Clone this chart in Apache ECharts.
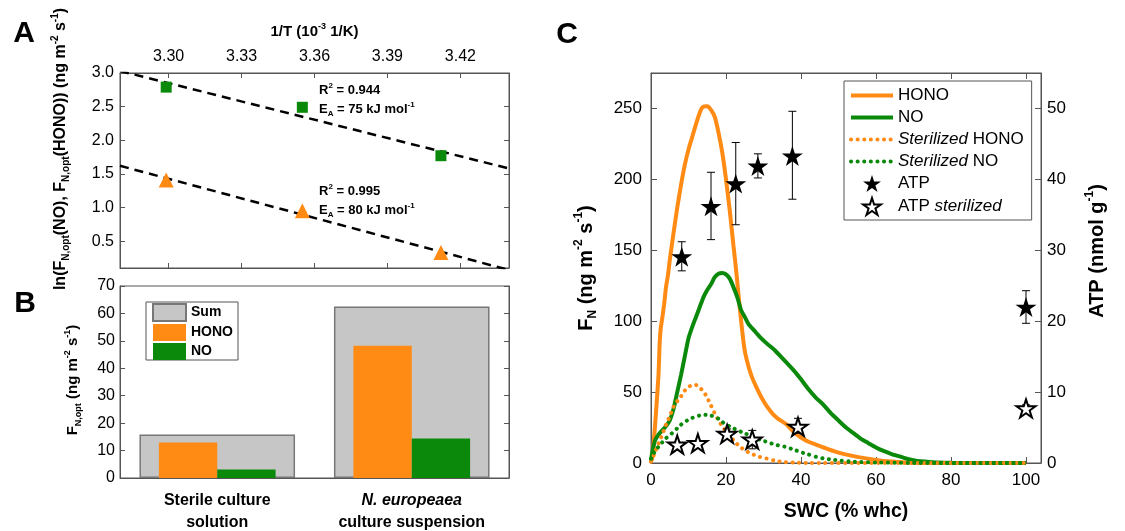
<!DOCTYPE html>
<html><head><meta charset="utf-8">
<script src="https://cdn.jsdelivr.net/npm/echarts@6/dist/echarts.min.js"></script>
<style>html,body{margin:0;padding:0;background:#fff}#c{width:1125px;height:531px}</style>
</head><body><div id="c"></div>
<script>
// ---------- Panel A: Arrhenius plot ----------
const invT = [3.299, 3.355, 3.412];
const lnNO = [2.79, 2.49, 1.77];
const lnHONO = [1.41, 0.95, 0.33];
const fitX = [3.28, 3.44];
const fitNO = [3.03, 1.58];
const fitHONO = [1.62, 0.07];
const aXTicks = [3.30, 3.33, 3.36, 3.39, 3.42];
const aYTicks = [0.5, 1.0, 1.5, 2.0, 2.5, 3.0];
// ---------- Panel B: optimum fluxes ----------
const bCategories = ['Sterile culture\nsolution', 'N. europeaea\nculture suspension'];
const bSum = [15.9, 62.5];
const bHONO = [12.9, 48.2];
const bNO = [3.1, 14.4];
// ---------- Panel C: fluxes vs SWC ----------
const cHONO = [[0,1],[0.3,3],[0.7,14],[1.1,27],[1.5,42],[2,62],[2.3,84],[2.6,95],[3,102],[3.5,112],[4,124],[4.5,132],[5,143],[6,162],[7,180],[8,196],[9,210],[10,221],[11,230],[12,239],[13,247],[13.8,251],[15,251.5],[16,249],[17,244],[18,233],[19,219],[20,200],[21,178],[22,153],[22.5,141],[23,128],[23.5,114],[24,101],[24.5,89],[25,79],[26,68],[27,60],[28,54],[29.5,46],[31,39.5],[32.5,34.5],[34,31],[36,27.5],[38,22],[40,18],[42,15],[44,13],[47,10],[51,6.6],[55,4.3],[60,2.2],[64,1],[68,0.3],[72,0],[100,0]];
const cNO = [[0,2],[0.3,7],[0.7,12],[1.1,16],[2,20],[3,23],[4,26],[5,30],[6,38],[7,50],[8,62],[9,75],[10,88],[11,96],[12,103],[13,110],[14,117],[15,122],[16,126],[17,131],[18,133.5],[19,134],[20,133],[21,130],[22,124],[23,117],[24,108],[25,103],[26,98],[27.5,93.5],[29,89],[31,84],[33,79.5],[35,74],[38,65.5],[40,59],[42,52],[44,46],[46,41],[48,35],[50,30],[52,25],[54,21],[56,17],[58,14],[60,11],[62,8.5],[64,6.5],[66,4.8],[68,3.2],[70,2],[72,1.2],[75,0.5],[80,0.1],[85,0],[100,0]];
const cSterHONO = [[0,1],[1,7],[2,13.7],[3,20],[4,27],[5,33],[6,39.5],[7,43.5],[8,47],[9,51],[10,53.5],[11,55],[12,55],[13,53],[14,50.5],[15,46],[16,40.5],[17,35],[18,30],[19,26],[20,22.5],[21,19],[22,16],[23,13.2],[24,11],[25,9],[27,6.3],[29,4.3],[31,3],[33,1.7],[35,0.8],[38,0.3],[42,0],[100,0]];
const cSterNO = [[0,3],[1,8],[2,11.5],[3,14.5],[4,17.5],[5,19.5],[6,22],[7,24.5],[8,27],[9,29],[10,30.5],[11,31.8],[12,32.8],[13,33.5],[14,33.9],[15,34],[16,33.5],[17,32.5],[18,31.2],[19,29],[20,27],[21,25.8],[22,24.5],[23,23.2],[24,22],[25,21],[27,18.7],[29,16.5],[31,14.8],[33,13],[36,11.3],[38,9.5],[40,7.6],[42,6],[44,4.4],[46,3.2],[48,2.4],[50,1.8],[53,1.1],[56,0.7],[60,0.4],[65,0.2],[70,0],[100,0]];
const atpSWC = [8.2, 16.0, 22.6, 28.5, 37.7, 100];
const atpMean = [29.1, 36.2, 39.4, 41.9, 43.3, 22.0];
const atpLow = [27.1, 31.5, 33.6, 40.2, 37.2, 19.7];
const atpHigh = [31.2, 41.0, 45.2, 43.6, 49.6, 24.3];
const atpSterSWC = [7.0, 12.5, 20.3, 27.0, 39.2, 100];
const atpSterMean = [2.6, 2.8, 4.1, 3.3, 5.1, 7.7];
const atpSterLow = [2.3, 2.5, 3.4, 2.0, 4.2, 7.2];
const atpSterHigh = [2.9, 3.1, 4.8, 4.6, 6.3, 8.2];

const FONT = "'Liberation Sans', Arial, sans-serif";
const ORANGE = '#ff8a14';
const GREEN = '#0a890a';
const FRAME = '#555';
const STAR = 'path://M50 0L61.23 34.55L97.55 34.55L68.16 55.9L79.39 90.45L50 69.1L20.61 90.45L31.84 55.9L2.45 34.55L38.77 34.55Z';

function richSet(size, weight) {
  return {
    b: {fontSize: size, fontWeight: weight, fontFamily: FONT, color: '#000', lineHeight: Math.round(size * 1.3)},
    sub: {fontSize: Math.round(size * 0.62), fontWeight: weight, fontFamily: FONT, color: '#000', verticalAlign: 'bottom', lineHeight: Math.round(size * 0.62)},
    sup: {fontSize: Math.round(size * 0.62), fontWeight: weight, fontFamily: FONT, color: '#000', verticalAlign: 'top', lineHeight: Math.round(size * 0.62)}
  };
}
const lineStyleFrame = {lineStyle: {color: FRAME, width: 1}};
function tick(len, custom) {
  const t = {show: true, inside: true, length: len, lineStyle: {color: FRAME, width: 1}};
  if (custom) t.customValues = custom;
  return t;
}
function lbl(size, margin, extra) {
  return Object.assign({color: '#000', fontSize: size, fontFamily: FONT, margin: margin}, extra || {});
}

function errRender(params, api) {
  const x = api.value(0), lo = api.value(1), hi = api.value(2);
  const p1 = api.coord([x, lo]), p2 = api.coord([x, hi]);
  const w = 4, st = {stroke: '#000', lineWidth: 1};
  return {type: 'group', children: [
    {type: 'line', shape: {x1: p1[0], y1: p1[1], x2: p2[0], y2: p2[1]}, style: st},
    {type: 'line', shape: {x1: p1[0] - w, y1: p1[1], x2: p1[0] + w, y2: p1[1]}, style: st},
    {type: 'line', shape: {x1: p2[0] - w, y1: p2[1], x2: p2[0] + w, y2: p2[1]}, style: st}
  ]};
}

const cLegendText = {
  'HONO (SWC)': '{n|HONO}', 'NO (SWC)': '{n|NO}',
  'Sterilized HONO': '{i|Sterilized} {n|HONO}', 'Sterilized NO': '{i|Sterilized} {n|NO}',
  'ATP': '{n|ATP}', 'ATP sterilized': '{n|ATP} {i|sterilized}'
};

const chart = echarts.init(document.getElementById('c'), null, {renderer: 'canvas'});
const option = {
  animation: false,
  backgroundColor: '#fff',
  textStyle: {fontFamily: FONT},
  grid: [
    {left: 120, top: 73, width: 389, height: 195, show: true, borderColor: FRAME, borderWidth: 1},
    {left: 120, top: 286, width: 389, height: 196, show: true, borderColor: FRAME, borderWidth: 1},
    {left: 651, top: 73, width: 390, height: 390, show: true, borderColor: FRAME, borderWidth: 1}
  ],
  xAxis: [
    {gridIndex: 0, type: 'value', position: 'top', min: 3.28, max: 3.44,
     axisLine: Object.assign({show: true, onZero: false}, lineStyleFrame),
     axisTick: tick(5, aXTicks), splitLine: {show: false},
     axisLabel: lbl(16, 8, {customValues: aXTicks, formatter: v => v.toFixed(2)}),
     name: '{b|1/T (10}{sup|-3}{b| 1/K)}', nameLocation: 'middle', nameGap: 31,
     nameTextStyle: {rich: richSet(15, 'bold')}},
    {gridIndex: 0, type: 'value', position: 'bottom', min: 3.28, max: 3.44,
     axisLine: Object.assign({show: true, onZero: false}, lineStyleFrame),
     axisTick: tick(5, aXTicks), axisLabel: {show: false}, splitLine: {show: false}},
    {gridIndex: 1, type: 'category', data: bCategories, position: 'bottom',
     axisLine: Object.assign({show: true, onZero: false}, lineStyleFrame),
     axisTick: {show: false}, splitLine: {show: false},
     axisLabel: {interval: 0, margin: 12,
       formatter: v => v.split('\n').map(l => l.indexOf('N. europeaea') === 0 ? '{i|' + l + '}' : '{b|' + l + '}').join('\n'),
       rich: {
         b: {fontSize: 16, fontWeight: 'bold', fontFamily: FONT, color: '#000', lineHeight: 22},
         i: {fontSize: 16, fontWeight: 'bold', fontStyle: 'italic', fontFamily: FONT, color: '#000', lineHeight: 22}
       }}},
    {gridIndex: 1, type: 'category', data: bCategories, show: false},
    {gridIndex: 2, type: 'value', min: 0, max: 104, interval: 20,
     axisLine: Object.assign({show: true, onZero: false}, lineStyleFrame),
     axisTick: tick(6), splitLine: {show: false},
     axisLabel: lbl(17, 9, {showMaxLabel: false}),
     name: 'SWC (% whc)', nameLocation: 'middle', nameGap: 39,
     nameTextStyle: {fontSize: 19.5, fontWeight: 'bold', color: '#000', fontFamily: FONT}},
    {gridIndex: 2, type: 'value', position: 'top', min: 0, max: 104, interval: 20,
     axisLine: Object.assign({show: true, onZero: false}, lineStyleFrame),
     axisTick: tick(6), axisLabel: {show: false}, splitLine: {show: false}}
  ],
  yAxis: [
    {gridIndex: 0, type: 'value', min: 0.1, max: 3.0,
     axisLine: Object.assign({show: true, onZero: false}, lineStyleFrame),
     axisTick: tick(5, aYTicks), splitLine: {show: false},
     axisLabel: lbl(16, 6, {customValues: aYTicks, formatter: v => v.toFixed(1)})},
    {gridIndex: 0, type: 'value', position: 'right', min: 0.1, max: 3.0,
     axisLine: Object.assign({show: true, onZero: false}, lineStyleFrame),
     axisTick: tick(5, aYTicks), axisLabel: {show: false}, splitLine: {show: false}},
    {gridIndex: 1, type: 'value', min: 0, max: 70, interval: 10,
     axisLine: Object.assign({show: true, onZero: false}, lineStyleFrame),
     axisTick: tick(5), splitLine: {show: false}, axisLabel: lbl(16, 5)},
    {gridIndex: 1, type: 'value', position: 'right', min: 0, max: 70, interval: 10,
     axisLine: Object.assign({show: true, onZero: false}, lineStyleFrame),
     axisTick: tick(5), splitLine: {show: false}, axisLabel: {show: false}},
    {gridIndex: 2, type: 'value', min: 0, max: 275, interval: 50,
     axisLine: Object.assign({show: true, onZero: false}, lineStyleFrame),
     axisTick: tick(6), splitLine: {show: false}, axisLabel: lbl(17, 9, {showMaxLabel: false}),
     name: '{b|F}{sub|N}{b| (ng m}{sup|-2}{b| s}{sup|-1}{b|)}', nameLocation: 'middle', nameGap: 52, nameRotate: 90,
     nameTextStyle: {rich: richSet(20, 'bold')}},
    {gridIndex: 2, type: 'value', position: 'right', min: 0, max: 55, interval: 10,
     axisLine: Object.assign({show: true, onZero: false}, lineStyleFrame),
     axisTick: tick(6), splitLine: {show: false}, axisLabel: lbl(17, 6, {showMaxLabel: false}),
     name: '{b|ATP (nmol g}{sup|-1}{b|)}', nameLocation: 'middle', nameGap: 43, nameRotate: 90,
     nameTextStyle: {rich: richSet(20, 'bold'), padding: [0, 0, 0, 34]}}
  ],
  legend: [
    {data: ['Sum', 'HONO', 'NO'], orient: 'vertical', left: 146, top: 302, icon: 'rect',
     itemWidth: 33, itemHeight: 17, itemGap: 2, padding: [1, 5, 0, 6],
     borderColor: FRAME, borderWidth: 1, backgroundColor: 'rgba(0,0,0,0)',
     selectedMode: false,
     textStyle: {fontSize: 14, fontWeight: 'bold', color: '#000', fontFamily: FONT}},
    {data: [
       {name: 'HONO (SWC)', itemStyle: {opacity: 0}, lineStyle: {width: 4}},
       {name: 'NO (SWC)', itemStyle: {opacity: 0}, lineStyle: {width: 4}},
       {name: 'Sterilized HONO', itemStyle: {opacity: 0}, lineStyle: {width: 4}},
       {name: 'Sterilized NO', itemStyle: {opacity: 0}, lineStyle: {width: 4}},
       {name: 'ATP'},
       {name: 'ATP sterilized'}],
     orient: 'vertical', left: 844, top: 81, itemWidth: 42, itemHeight: 17, itemGap: 5,
     padding: [6, 8, 4, 5], borderColor: FRAME, borderWidth: 1, backgroundColor: '#fff',
     selectedMode: false,
     formatter: n => cLegendText[n],
     textStyle: {fontSize: 17, color: '#000', fontFamily: FONT,
       rich: {n: {fontSize: 17, fontFamily: FONT, color: '#000'}, i: {fontSize: 17, fontStyle: 'italic', fontFamily: FONT, color: '#000'}}}}
  ],
  series: [
    // Panel A
    {name: 'fit NO', type: 'line', xAxisIndex: 0, yAxisIndex: 0, data: fitX.map((x, i) => [x, fitNO[i]]),
     symbol: 'none', clip: true, silent: true, lineStyle: {color: '#000', width: 2.5, type: [9, 6]}},
    {name: 'fit HONO', type: 'line', xAxisIndex: 0, yAxisIndex: 0, data: fitX.map((x, i) => [x, fitHONO[i]]),
     symbol: 'none', clip: true, silent: true, lineStyle: {color: '#000', width: 2.5, type: [9, 6]}},
    {name: 'ln NO', type: 'scatter', xAxisIndex: 0, yAxisIndex: 0, data: invT.map((x, i) => [x, lnNO[i]]),
     symbol: 'rect', symbolSize: 11, itemStyle: {color: GREEN, opacity: 1}, z: 4},
    {name: 'ln HONO', type: 'scatter', xAxisIndex: 0, yAxisIndex: 0, data: invT.map((x, i) => [x, lnHONO[i]]),
     symbol: 'triangle', symbolSize: 15, itemStyle: {color: ORANGE, opacity: 1}, z: 4},
    // Panel B
    {name: 'Sum', type: 'bar', xAxisIndex: 2, yAxisIndex: 2, data: bSum, barWidth: '80%',
     itemStyle: {color: '#c6c6c6', borderColor: '#777', borderWidth: 1.5}, z: 1},
    {name: 'HONO', type: 'bar', xAxisIndex: 3, yAxisIndex: 2, data: bHONO, barWidth: '30%', barGap: '0%',
     itemStyle: {color: ORANGE}, z: 2},
    {name: 'NO', type: 'bar', xAxisIndex: 3, yAxisIndex: 2, data: bNO, barWidth: '30%', barGap: '0%',
     itemStyle: {color: GREEN}, z: 2},
    // Panel C
    {name: 'HONO (SWC)', type: 'line', xAxisIndex: 4, yAxisIndex: 4, data: cHONO, symbol: 'none', smooth: 0.2,
     lineStyle: {color: ORANGE, width: 4}, itemStyle: {color: ORANGE}, z: 2},
    {name: 'NO (SWC)', type: 'line', xAxisIndex: 4, yAxisIndex: 4, data: cNO, symbol: 'none', smooth: 0.2,
     lineStyle: {color: GREEN, width: 4}, itemStyle: {color: GREEN}, z: 2},
    {name: 'Sterilized HONO', type: 'line', xAxisIndex: 4, yAxisIndex: 4, data: cSterHONO, symbol: 'none', smooth: 0.2,
     lineStyle: {color: ORANGE, width: 4, type: [0.1, 6.5], cap: 'round'}, itemStyle: {color: ORANGE}, z: 2},
    {name: 'Sterilized NO', type: 'line', xAxisIndex: 4, yAxisIndex: 4, data: cSterNO, symbol: 'none', smooth: 0.2,
     lineStyle: {color: GREEN, width: 4, type: [0.1, 6.5], cap: 'round'}, itemStyle: {color: GREEN}, z: 2},
    {name: 'ATP err', type: 'custom', xAxisIndex: 4, yAxisIndex: 5, renderItem: errRender,
     data: atpSWC.map((x, i) => [x, atpLow[i], atpHigh[i]]), encode: {x: 0, y: [1, 2]}, z: 3, silent: true},
    {name: 'ATP sterilized err', type: 'custom', xAxisIndex: 4, yAxisIndex: 5, renderItem: errRender,
     data: atpSterSWC.map((x, i) => [x, atpSterLow[i], atpSterHigh[i]]), encode: {x: 0, y: [1, 2]}, z: 3, silent: true},
    {name: 'ATP', type: 'scatter', xAxisIndex: 4, yAxisIndex: 5, data: atpSWC.map((x, i) => [x, atpMean[i]]),
     symbol: STAR, symbolSize: 21, symbolKeepAspect: true, itemStyle: {color: '#000', opacity: 1}, z: 4},
    {name: 'ATP sterilized', type: 'scatter', xAxisIndex: 4, yAxisIndex: 5, data: atpSterSWC.map((x, i) => [x, atpSterMean[i]]),
     symbol: STAR, symbolSize: 19, symbolKeepAspect: true, itemStyle: {color: '#fff', borderColor: '#000', borderWidth: 2, opacity: 1}, z: 4}
  ],
  graphic: [
    {type: 'text', x: 24, y: 34, style: {text: 'A', font: 'bold 30px ' + FONT, fill: '#000', align: 'center', verticalAlign: 'middle'}},
    {type: 'text', x: 25, y: 304, style: {text: 'B', font: 'bold 30px ' + FONT, fill: '#000', align: 'center', verticalAlign: 'middle'}},
    {type: 'text', x: 567, y: 35, style: {text: 'C', font: 'bold 30px ' + FONT, fill: '#000', align: 'center', verticalAlign: 'middle'}},
    {type: 'text', x: 61, y: 149, rotation: Math.PI / 2,
     style: {text: '{b|ln(F}{sub|N,opt}{b|(NO), F}{sub|N,opt}{b|(HONO)) (ng m}{sup|-2}{b| s}{sup|-1}{b|)}',
       rich: richSet(16, 'bold'), align: 'center', verticalAlign: 'middle'}},
    {type: 'text', x: 73, y: 380, rotation: Math.PI / 2,
     style: {text: '{b|F}{sub|N,opt}{b| (ng m}{sup|-2}{b| s}{sup|-1}{b|)}',
       rich: richSet(15, 'bold'), align: 'center', verticalAlign: 'middle'}},
    {type: 'text', x: 319, y: 90, style: {text: '{b|R}{sup|2}{b| = 0.944}', rich: richSet(13, 'bold'), align: 'left', verticalAlign: 'middle'}},
    {type: 'text', x: 319, y: 109, style: {text: '{b|E}{sub|A}{b| = 75 kJ mol}{sup|-1}', rich: richSet(13, 'bold'), align: 'left', verticalAlign: 'middle'}},
    {type: 'text', x: 319, y: 191, style: {text: '{b|R}{sup|2}{b| = 0.995}', rich: richSet(13, 'bold'), align: 'left', verticalAlign: 'middle'}},
    {type: 'text', x: 319, y: 210, style: {text: '{b|E}{sub|A}{b| = 80 kJ mol}{sup|-1}', rich: richSet(13, 'bold'), align: 'left', verticalAlign: 'middle'}}
  ]
};
chart.setOption(option);
</script>
</body></html>
